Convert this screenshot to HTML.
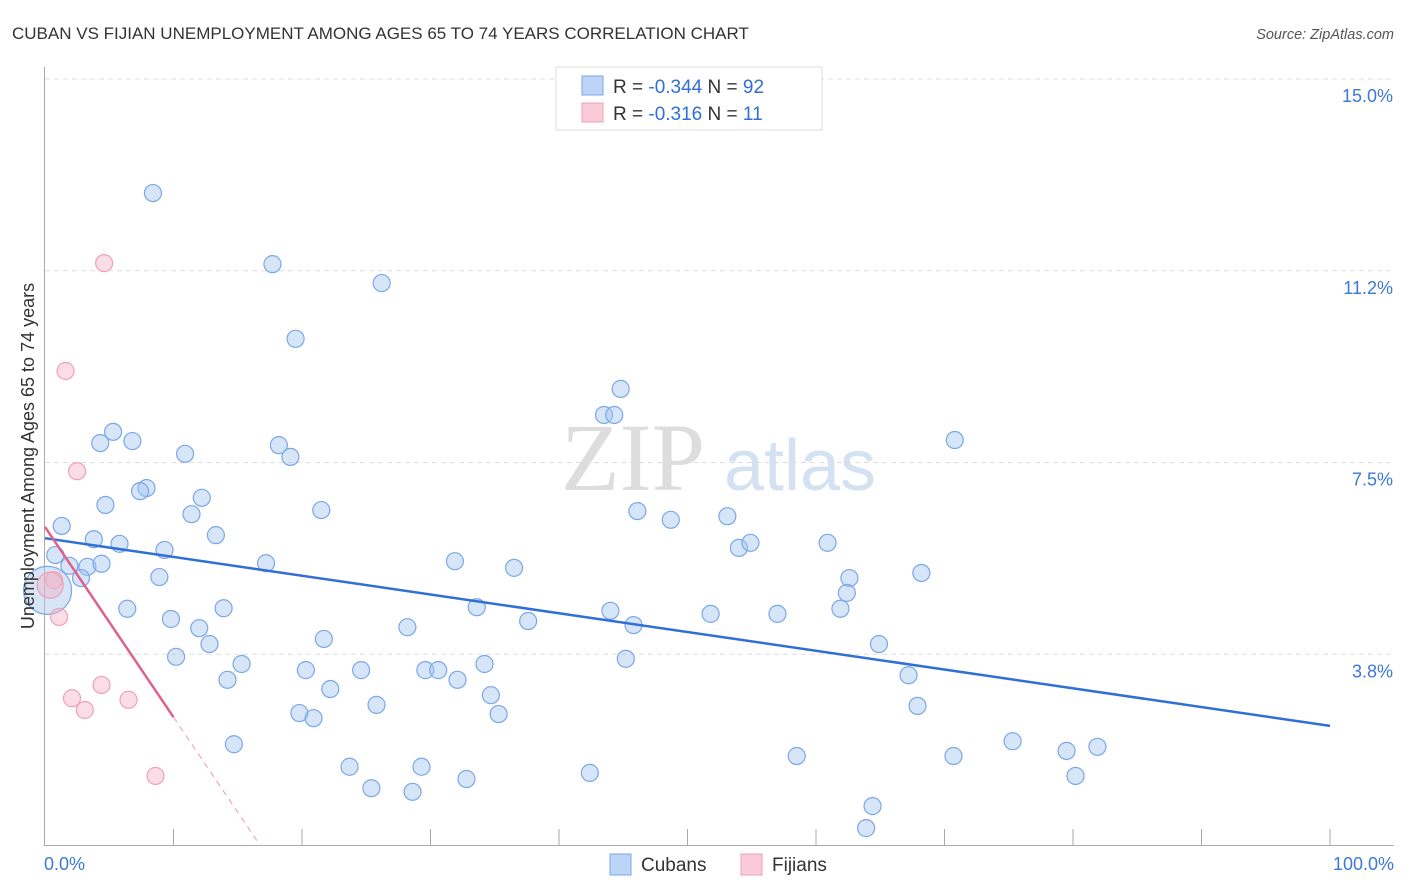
<!DOCTYPE html>
<html><head><meta charset="utf-8">
<style>
body{margin:0;background:#fff;font-family:"Liberation Sans",sans-serif;}
svg{display:block}
</style></head><body>
<svg id="chart" width="1406" height="892">
<text x="12" y="39" font-size="17" fill="#333">CUBAN VS FIJIAN UNEMPLOYMENT AMONG AGES 65 TO 74 YEARS CORRELATION CHART</text>
<text x="1394" y="39" font-size="14.5" fill="#555" font-style="italic" text-anchor="end">Source: ZipAtlas.com</text>
<text x="633" y="490" font-size="96" fill="#ddd" font-family="Liberation Serif,serif" text-anchor="middle">ZIP</text>
<text x="800" y="490" font-size="72" fill="#d3e1f3" text-anchor="middle">atlas</text>
<g id="grid"></g><g id="axes"></g><g id="pts"></g><g id="lines"></g>
<text transform="translate(34,456) rotate(-90)" font-size="18" fill="#333" text-anchor="middle">Unemployment Among Ages 65 to 74 years</text>
<g>
<rect x="556" y="67" width="266" height="63" fill="#fff" stroke="#ddd"/>
<rect x="582" y="76" width="21" height="19" fill="#bcd4f5" stroke="#7aa8e6"/>
<rect x="582" y="103" width="21" height="19" fill="#f9cad8" stroke="#f0a0b8"/>
<text x="613" y="93" font-size="19" fill="#333">R = <tspan fill="#2f6fd6">-0.344</tspan>   N = <tspan fill="#2f6fd6">92</tspan></text>
<text x="613" y="120" font-size="19" fill="#333">R =  <tspan fill="#2f6fd6">-0.316</tspan>   N =  <tspan fill="#2f6fd6">11</tspan></text>
</g>
<g>
<rect x="610" y="854" width="21" height="21" fill="#bcd4f5" stroke="#7aa8e6"/>
<text x="641" y="871" font-size="19" fill="#333">Cubans</text>
<rect x="741" y="854" width="21" height="21" fill="#f9cad8" stroke="#f0a0b8"/>
<text x="772" y="871" font-size="19" fill="#333">Fijians</text>
</g>
</svg>
<script>
const yTicks=[15.0,11.25,7.5,3.75];
const yTickLabels=["15.0%","11.2%","7.5%","3.8%"];
const xTickCount=10;
const cubanX=[8.4,17.7,26.2,19.5,44.8,43.5,44.3,5.3,4.3,6.8,18.2,70.8,10.9,19.1,7.9,7.4,12.2,4.7,11.4,21.5,46.1,48.7,53.1,1.3,13.3,3.8,5.8,54.0,54.9,60.9,9.3,0.8,1.9,3.3,4.4,31.9,36.5,17.2,2.8,8.9,62.6,68.2,62.4,6.4,13.9,33.6,44.0,51.8,57.0,61.9,9.8,37.6,12.0,28.2,45.8,21.7,12.8,64.9,10.2,45.2,15.3,34.2,20.3,24.6,29.6,30.6,67.2,14.2,32.1,22.2,34.7,25.8,19.8,20.9,35.3,67.9,14.7,75.3,79.5,81.9,58.5,70.7,23.7,29.3,42.4,80.2,32.8,25.4,28.6,64.4,63.9,0.2];
const cubanY=[12.77,11.38,11.01,9.92,8.94,8.43,8.43,8.10,7.88,7.92,7.84,7.94,7.67,7.61,7.00,6.94,6.81,6.67,6.49,6.57,6.55,6.38,6.45,6.26,6.08,6.00,5.91,5.83,5.93,5.93,5.79,5.69,5.48,5.46,5.52,5.57,5.44,5.53,5.24,5.26,5.24,5.34,4.95,4.64,4.65,4.67,4.60,4.54,4.54,4.64,4.44,4.40,4.26,4.28,4.32,4.05,3.95,3.95,3.70,3.66,3.56,3.56,3.44,3.44,3.44,3.44,3.34,3.25,3.25,3.07,2.95,2.76,2.60,2.50,2.58,2.74,1.99,2.05,1.86,1.94,1.76,1.76,1.55,1.55,1.43,1.37,1.31,1.13,1.06,0.78,0.35,5.0];
const fijianX=[4.6,1.6,2.5,0.7,1.1,2.1,4.4,3.1,6.5,8.6,0.4];
const fijianY=[11.40,9.29,7.33,5.20,4.48,2.89,3.15,2.66,2.86,1.37,5.1];
const cubanTrend=[6.02,2.35];
const fijianTrend=[6.24,2.52];
const NS="http://www.w3.org/2000/svg";
const X0=45,X1=1330,Y0=846,YS=51.13;
function sx(v){return X0+(X1-X0)*v/100;}
function sy(v){return Y0-v*YS;}
function mk(parent,tag,attrs){const e=document.createElementNS(NS,tag);for(const k in attrs)e.setAttribute(k,attrs[k]);document.getElementById(parent).appendChild(e);return e;}
yTicks.forEach((t,i)=>{
 const g=mk('grid','line',{x1:45,x2:1394,y1:sy(t),y2:sy(t),stroke:'#ddd','stroke-dasharray':'5,4'});
 
 
 const l=mk('grid','text',{x:1393,y:sy(t)+23,'font-size':18,fill:'#3b78d8','text-anchor':'end'});
 l.textContent=yTickLabels[i];
 
 
});
let a=mk('axes','line',{x1:44.5,x2:44.5,y1:67,y2:845.5,stroke:'#aaa'});


a=mk('axes','line',{x1:44,x2:1394,y1:845.5,y2:845.5,stroke:'#aaa'});


for(let i=1;i<=xTickCount;i++){
 const t=mk('axes','line',{x1:sx(i*10),x2:sx(i*10),y1:829,y2:845,stroke:'#aaa'});
 
 
}
let xl=mk('axes','text',{x:44,y:870,'font-size':18,fill:'#3b78d8'});xl.textContent='0.0%';


xl=mk('axes','text',{x:1394,y:870,'font-size':18,fill:'#3b78d8','text-anchor':'end'});xl.textContent='100.0%';


cubanX.forEach((v,i)=>{
 const big=i===cubanX.length-1;
 const c=mk('pts','circle',{cx:sx(v),cy:sy(cubanY[i]),r:big?24:8.5,fill:'rgba(165,198,240,0.45)',stroke:'#7aa8e6','stroke-width':1.2});
 
 
});
fijianX.forEach((v,i)=>{
 const big=i===fijianX.length-1;
 const c=mk('pts','circle',{cx:sx(v),cy:sy(fijianY[i]),r:big?13:8.5,fill:'rgba(245,180,200,0.45)',stroke:'#f0a0b8','stroke-width':1.2});
 
 
});
let ln=mk('lines','line',{x1:sx(0),y1:sy(cubanTrend[0]),x2:sx(100),y2:sy(cubanTrend[1]),stroke:'#2f6fd6','stroke-width':2.5});


const fs=(fijianTrend[1]-fijianTrend[0])/10;
const xz=-fijianTrend[0]/fs;
ln=mk('lines','line',{x1:sx(0),y1:sy(fijianTrend[0]),x2:sx(10),y2:sy(fijianTrend[1]),stroke:'#e0608a','stroke-width':2.5});


ln=mk('lines','line',{x1:sx(10),y1:sy(fijianTrend[1]),x2:sx(xz),y2:sy(0),stroke:'#e89ab4','stroke-width':1,'stroke-dasharray':'6,5'});


</script>
</body></html>
